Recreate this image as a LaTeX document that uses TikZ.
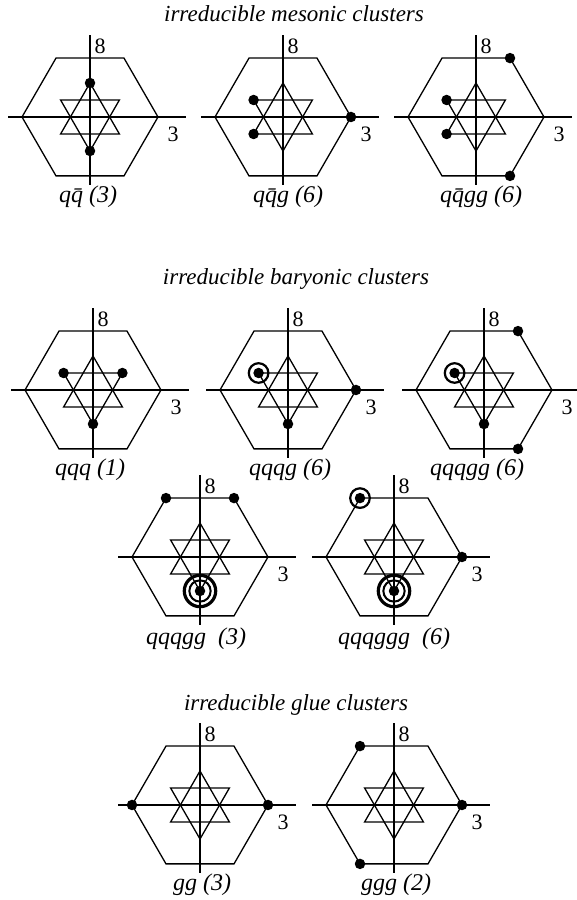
\documentclass[tikz,border=0pt]{standalone}
\usepackage{fontspec}
\setmainfont{Liberation Serif}
\usetikzlibrary{positioning}
\tikzset{
  frame/.style={line width=1.3pt,line join=miter},
  dot/.style={circle,fill=black,inner sep=0pt,minimum size=10.5pt},
  ringone/.style={circle,draw=black,line width=2.2pt,inner sep=0pt,minimum size=19.6pt},
  ringtwo/.style={circle,draw=black,line width=3.2pt,inner sep=0pt,minimum size=31.4pt},
  ringmid/.style={circle,draw=black,line width=2pt,inner sep=0pt,minimum size=21.3pt},
  head/.style={font=\itshape\fontsize{23}{26}\selectfont},
  lbl/.style={font=\itshape\fontsize{24}{26}\selectfont},
  num/.style={font=\fontsize{22}{24}\selectfont},
}
% one weight diagram: hexagon, star, axes; #1 = prefix
\newcommand{\weights}[1]{%
  \coordinate (E) at (68,0);     \coordinate (NE) at (34,58.9);
  \coordinate (NW) at (-34,58.9); \coordinate (W) at (-68,0);
  \coordinate (SW) at (-34,-58.9); \coordinate (SE) at (34,-58.9);
  \coordinate (up) at (0,34);     \coordinate (dn) at (0,-34);
  \coordinate (ul) at (-29.4,17); \coordinate (ur) at (29.4,17);
  \coordinate (ll) at (-29.4,-17); \coordinate (lr) at (29.4,-17);
  \draw[frame] (E) -- (NE) -- (NW) -- (W) -- (SW) -- (SE) -- cycle;
  \draw[frame] (up) -- (ll) -- (lr) -- cycle;
  \draw[frame] (dn) -- (ul) -- (ur) -- cycle;
  \draw[frame] (-82,0) -- (96,0);
  \draw[frame] (0,-68) -- (0,82);
  \node[num] (#1-8) at (10,71) {8};
  \node[num] (#1-3) at (83,-17) {3};
}
\begin{document}
\begin{tikzpicture}[x=1pt,y=1pt]
  \useasboundingbox (0,0) rectangle (576,900);
  % -- mesonic --
  \node[head] (tm) at (294,886) {irreducible mesonic clusters};
  \begin{scope}[shift={(90,783)}]
    \weights{m1}
    \node[dot] (m1a) at (up) {}; \node[dot] (m1b) at (dn) {};
    \node[lbl] (m1l) at (-2,-80) {q\={q} (3)};
  \end{scope}
  \begin{scope}[shift={(283,783)}]
    \weights{m2}
    \node[dot] (m2a) at (ul) {}; \node[dot] (m2b) at (ll) {}; \node[dot] (m2c) at (E) {};
    \node[lbl] (m2l) at (5,-80) {q\={q}g (6)};
  \end{scope}
  \begin{scope}[shift={(476,783)}]
    \weights{m3}
    \node[dot] (m3a) at (ul) {}; \node[dot] (m3b) at (ll) {};
    \node[dot] (m3c) at (NE) {}; \node[dot] (m3d) at (SE) {};
    \node[lbl] (m3l) at (5,-80) {q\={q}gg (6)};
  \end{scope}
  % -- baryonic --
  \node[head] (tb) at (296,621) {irreducible baryonic clusters};
  \begin{scope}[shift={(93,510)}]
    \weights{b1}
    \node[dot] (b1a) at (ul) {}; \node[dot] (b1b) at (ur) {}; \node[dot] (b1c) at (dn) {};
    \node[lbl] (b1l) at (-3,-80) {qqq (1)};
  \end{scope}
  \begin{scope}[shift={(288,510)}]
    \weights{b2}
    \node[dot] (b2a) at (ul) {}; \node[ringone] (b2r) at (ul) {};
    \node[dot] (b2b) at (dn) {}; \node[dot] (b2c) at (E) {};
    \node[lbl] (b2l) at (2,-80) {qqqg (6)};
  \end{scope}
  \begin{scope}[shift={(484,510)}]
    \weights{b3}
    \node[dot] (b3a) at (ul) {}; \node[ringone] (b3r) at (ul) {};
    \node[dot] (b3b) at (dn) {};
    \node[dot] (b3c) at (NE) {}; \node[dot] (b3d) at (SE) {};
    \node[lbl] (b3l) at (-7,-80) {qqqgg (6)};
  \end{scope}
  \begin{scope}[shift={(200,343)}]
    \weights{b4}
    \node[dot] (b4a) at (NW) {}; \node[dot] (b4b) at (NE) {};
    \node[dot] (b4c) at (dn) {}; \node[ringmid] (b4r) at (dn) {}; \node[ringtwo] (b4s) at (dn) {};
    \node[lbl] (b4l) at (-4,-82) {qqqgg\ \ (3)};
  \end{scope}
  \begin{scope}[shift={(394,343)}]
    \weights{b5}
    \node[dot] (b5a) at (NW) {}; \node[ringone] (b5r) at (NW) {};
    \node[dot] (b5b) at (E) {};
    \node[dot] (b5c) at (dn) {}; \node[ringmid] (b5s) at (dn) {}; \node[ringtwo] (b5t) at (dn) {};
    \node[lbl] (b5l) at (0,-82) {qqqggg\ \ (6)};
  \end{scope}
  % -- glue --
  \node[head] (tg) at (296,195) {irreducible glue clusters};
  \begin{scope}[shift={(200,95)}]
    \weights{g1}
    \node[dot] (g1a) at (W) {}; \node[dot] (g1b) at (E) {};
    \node[lbl] (g1l) at (2,-80) {gg (3)};
  \end{scope}
  \begin{scope}[shift={(394,95)}]
    \weights{g2}
    \node[dot] (g2a) at (NW) {}; \node[dot] (g2b) at (E) {}; \node[dot] (g2c) at (SW) {};
    \node[lbl] (g2l) at (2,-80) {ggg (2)};
  \end{scope}
\end{tikzpicture}
\end{document}
